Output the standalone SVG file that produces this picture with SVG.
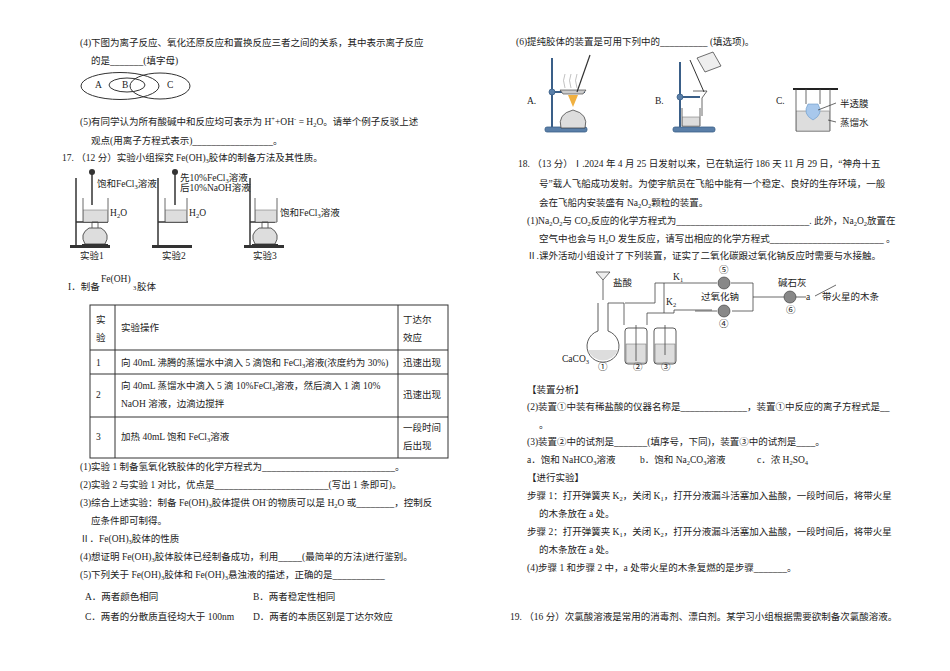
<svg xmlns="http://www.w3.org/2000/svg" width="950" height="671" viewBox="0 0 950 671">
<style>
text{font-family:"Liberation Serif","Noto Sans CJK SC",serif;font-size:9.5px;fill:#222}
.s{font-size:6.5px}
.ln{stroke:#333;stroke-width:1;fill:none}
.th{stroke:#444;stroke-width:0.8;fill:none}
.liq{fill:#ddd;stroke:#666;stroke-width:0.5}
.blue{fill:#5a7fa8;stroke:#3a5f88;stroke-width:0.8}
</style>
<rect width="950" height="671" fill="#fff"/>
<defs>
<g id="burner"><path d="M-10,0 q-6,-10 4,-16 h12 q10,6 4,16 z" fill="#ddd" stroke="#333" stroke-width="0.8"/><rect x="-13" y="0" width="26" height="3" fill="#333"/><path d="M-3,-16 v-6 h6 v6" class="th"/></g>
</defs>
<g id="left-text">
<text x="80" y="46">(4)下图为离子反应、氧化还原反应和置换反应三者之间的关系，其中表示离子反应</text>
<text x="91" y="64">的是_______(填字母)</text>
<text x="80" y="125">(5)有同学认为所有酸碱中和反应均可表示为 H<tspan class="s" dy="-4">+</tspan><tspan dy="4">+OH</tspan><tspan class="s" dy="-4">-</tspan><tspan dy="4"> = H</tspan><tspan class="s" dy="2">2</tspan><tspan dy="-2">O。请举个例子反驳上述</tspan></text>
<text x="91" y="144">观点(用离子方程式表示)_________________。</text>
<text x="62" y="161">17.  （12 分）实验小组探究 Fe(OH)<tspan class="s" dy="2">3</tspan><tspan dy="-2">胶体的制备方法及其性质。</tspan></text>
<text x="68" y="290">I．制备</text><text x="101" y="282" font-size="8">Fe(OH)</text><text x="133" y="290" class="s">3</text><text x="137" y="290">胶体</text>
</g>
<g id="venn">
<ellipse cx="120" cy="86" rx="39" ry="13.5" class="ln"/>
<ellipse cx="127" cy="85" rx="18" ry="7" class="ln"/>
<ellipse cx="160" cy="86" rx="30" ry="13" class="ln"/>
<text x="95" y="88" font-size="7">A</text><text x="122" y="88" font-size="7">B</text><text x="167" y="88" font-size="7">C</text>
</g>
<g id="exp1">
<line x1="76" y1="178" x2="76" y2="247" stroke="#333" stroke-width="1.5"/><rect x="70" y="245" width="40" height="3" fill="#333"/>
<line x1="76" y1="222" x2="108" y2="222" stroke="#333" stroke-width="1.5"/>
<path d="M83,198 v24 h25 v-24" class="th"/><rect x="83.5" y="210" width="24" height="12" class="liq"/>
<line x1="92" y1="170" x2="92" y2="205" stroke="#333" stroke-width="1.5"/><circle cx="92" cy="172" r="3" fill="#333"/>
<use href="#burner" x="95" y="244"/>
<text x="97" y="187" font-size="7.5">饱和FeCl<tspan class="s" dy="1.5">3</tspan><tspan dy="-1.5">溶液</tspan></text>
<text x="110" y="216" font-size="7.5">H<tspan class="s" dy="1.5">2</tspan><tspan dy="-1.5">O</tspan></text>
<text x="80" y="259" font-size="7.5">实验1</text>
</g>
<g id="exp2">
<line x1="158" y1="178" x2="158" y2="247" stroke="#333" stroke-width="1.5"/><rect x="152" y="245" width="40" height="3" fill="#333"/>
<line x1="158" y1="222" x2="188" y2="222" stroke="#333" stroke-width="1.5"/>
<path d="M165,198 v24 h22 v-24" class="th"/><rect x="165.5" y="210" width="21" height="12" class="liq"/>
<line x1="175" y1="170" x2="175" y2="205" stroke="#333" stroke-width="1.5"/><circle cx="175" cy="172" r="3" fill="#333"/>
<text x="180" y="181" font-size="7.5">先10%FeCl<tspan class="s" dy="1.5">3</tspan><tspan dy="-1.5">溶液</tspan></text>
<text x="180" y="191" font-size="7.5">后10%NaOH溶液</text>
<text x="189" y="216" font-size="7.5">H<tspan class="s" dy="1.5">2</tspan><tspan dy="-1.5">O</tspan></text>
<text x="162" y="259" font-size="7.5">实验2</text>
</g>
<g id="exp3">
<line x1="250" y1="178" x2="250" y2="247" stroke="#333" stroke-width="1.5"/><rect x="244" y="245" width="40" height="3" fill="#333"/>
<line x1="250" y1="222" x2="275" y2="222" stroke="#333" stroke-width="1.5"/>
<path d="M255,198 v24 h22 v-24" class="th"/><rect x="255.5" y="210" width="21" height="12" class="liq"/>
<use href="#burner" x="265" y="244"/>
<text x="280" y="216" font-size="7.5">饱和FeCl<tspan class="s" dy="1.5">3</tspan><tspan dy="-1.5">溶液</tspan></text>
<text x="253" y="259" font-size="7.5">实验3</text>
</g>
<g id="table">
<rect x="90" y="305" width="358" height="153" class="ln"/>
<line x1="115" y1="305" x2="115" y2="458" class="ln"/><line x1="398" y1="305" x2="398" y2="458" class="ln"/>
<line x1="90" y1="350" x2="448" y2="350" class="ln"/><line x1="90" y1="374" x2="448" y2="374" class="ln"/><line x1="90" y1="417" x2="448" y2="417" class="ln"/>
<text x="96" y="323">实</text><text x="96" y="341">验</text><text x="121" y="331">实验操作</text>
<text x="403" y="323">丁达尔</text><text x="403" y="341">效应</text>
<text x="96" y="366">1</text><text x="121" y="366">向 40mL 沸腾的蒸馏水中滴入 5 滴饱和 FeCl<tspan class="s" dy="2">3</tspan><tspan dy="-2">溶液(浓度约为 30%)</tspan></text><text x="403" y="366">迅速出现</text>
<text x="96" y="398">2</text><text x="121" y="389">向 40mL 蒸馏水中滴入 5 滴 10%FeCl<tspan class="s" dy="2">3</tspan><tspan dy="-2">溶液，然后滴入 1 滴 10%</tspan></text><text x="121" y="407">NaOH 溶液，边滴边搅拌</text><text x="403" y="398">迅速出现</text>
<text x="96" y="440">3</text><text x="121" y="440">加热 40mL 饱和 FeCl<tspan class="s" dy="2">3</tspan><tspan dy="-2">溶液</tspan></text><text x="403" y="431">一段时间</text><text x="403" y="449">后出现</text>
</g>
<g id="left-q">
<text x="80" y="470">(1)实验 1 制备氢氧化铁胶体的化学方程式为____________________________。</text>
<text x="80" y="488">(2)实验 2 与实验 1 对比，优点是________________________(写出 1 条即可)。</text>
<text x="80" y="506">(3)综合上述实验：制备 Fe(OH)<tspan class="s" dy="2">3</tspan><tspan dy="-2">胶体提供 OH</tspan><tspan class="s" dy="-4">-</tspan><tspan dy="4">的物质可以是 H</tspan><tspan class="s" dy="2">2</tspan><tspan dy="-2">O 或________，控制反</tspan></text>
<text x="91" y="524">应条件即可制得。</text>
<text x="80" y="542">Ⅱ．Fe(OH)<tspan class="s" dy="2">3</tspan><tspan dy="-2">胶体的性质</tspan></text>
<text x="80" y="560">(4)想证明 Fe(OH)<tspan class="s" dy="2">3</tspan><tspan dy="-2">胶体胶体已经制备成功，利用_____(最简单的方法)进行鉴别。</tspan></text>
<text x="80" y="578">(5)下列关于 Fe(OH)<tspan class="s" dy="2">3</tspan><tspan dy="-2">胶体和 Fe(OH)</tspan><tspan class="s" dy="2">3</tspan><tspan dy="-2">悬浊液的描述，正确的是___________</tspan></text>
<text x="85" y="600">A．两者颜色相同</text><text x="253" y="600">B．两者稳定性相同</text>
<text x="85" y="620">C．两者的分散质直径均大于 100nm</text><text x="253" y="620">D．两者的本质区别是丁达尔效应</text>
</g>
<g id="right-text">
<text x="516" y="45">(6)提纯胶体的装置是可用下列中的__________ (填选项)。</text>
<text x="527" y="104">A.</text><text x="655" y="104">B.</text><text x="776" y="104">C.</text>
<text x="518" y="167">18.  （13 分）Ⅰ.2024 年 4 月 25 日发射以来，已在轨运行 186 天 11 月 29 日，“神舟十五</text>
<text x="539" y="187">号”载人飞船成功发射。为使宇航员在飞船中能有一个稳定、良好的生存环境，一般</text>
<text x="539" y="206">会在飞船内安装盛有 Na<tspan class="s" dy="2">2</tspan><tspan dy="-2">O</tspan><tspan class="s" dy="2">2</tspan><tspan dy="-2">颗粒的装置。</tspan></text>
<text x="527" y="224">(1)Na<tspan class="s" dy="2">2</tspan><tspan dy="-2">O</tspan><tspan class="s" dy="2">2</tspan><tspan dy="-2">与 CO</tspan><tspan class="s" dy="2">2</tspan><tspan dy="-2">反应的化学方程式为____________________________. 此外，Na</tspan><tspan class="s" dy="2">2</tspan><tspan dy="-2">O</tspan><tspan class="s" dy="2">2</tspan><tspan dy="-2">放置在</tspan></text>
<text x="539" y="242">空气中也会与 H<tspan class="s" dy="2">2</tspan><tspan dy="-2">O 发生反应，请写出相应的化学方程式________________________ 。</tspan></text>
<text x="527" y="259">Ⅱ.课外活动小组设计了下列装置，证实了二氧化碳跟过氧化钠反应时需要与水接触。</text>
<text x="527" y="393">【装置分析】</text>
<text x="527" y="410">(2)装置①中装有稀盐酸的仪器名称是______________，装置①中反应的离子方程式是__</text>
<text x="539" y="428">。</text>
<text x="527" y="445">(3)装置②中的试剂是_______(填序号，下同)，装置③中的试剂是____。</text>
<text x="527" y="463">a．饱和 NaHCO<tspan class="s" dy="2">3</tspan><tspan dy="-2">溶液</tspan></text>
<text x="640" y="463">b．饱和 Na<tspan class="s" dy="2">2</tspan><tspan dy="-2">CO</tspan><tspan class="s" dy="2">3</tspan><tspan dy="-2">溶液</tspan></text>
<text x="757" y="463">c．浓 H<tspan class="s" dy="2">2</tspan><tspan dy="-2">SO</tspan><tspan class="s" dy="2">4</tspan></text>
<text x="527" y="481">【进行实验】</text>
<text x="527" y="499">步骤 1：打开弹簧夹 K<tspan class="s" dy="2">2</tspan><tspan dy="-2">，关闭 K</tspan><tspan class="s" dy="2">1</tspan><tspan dy="-2">，打开分液漏斗活塞加入盐酸，一段时间后，将带火星</tspan></text>
<text x="539" y="517">的木条放在 a 处。</text>
<text x="527" y="535">步骤 2：打开弹簧夹 K<tspan class="s" dy="2">1</tspan><tspan dy="-2">，关闭 K</tspan><tspan class="s" dy="2">2</tspan><tspan dy="-2">，打开分液漏斗活塞加入盐酸，一段时间后，将带火星</tspan></text>
<text x="539" y="553">的木条放在 a 处。</text>
<text x="527" y="571">(4)步骤 1 和步骤 2 中，a 处带火星的木条复燃的是步骤_______。</text>
<text x="510" y="620">19.  （16 分）次氯酸溶液是常用的消毒剂、漂白剂。某学习小组根据需要欲制备次氯酸溶液。</text>
</g>
<g id="figA">
<line x1="552" y1="58" x2="552" y2="128" stroke="#3a5f88" stroke-width="2"/>
<rect x="545" y="127" width="42" height="5" rx="2" class="blue"/>
<line x1="552" y1="92" x2="585" y2="92" stroke="#3a5f88" stroke-width="2"/><circle cx="552" cy="92" r="3" class="blue"/>
<path d="M560,90 h26 l-3,4 h-20 z" fill="#ccc" stroke="#333" stroke-width="0.6"/>
<path d="M568,95 l5,12 l5,-12" fill="#f0b040"/>
<path d="M561,128 q-4,-14 12,-18 q16,4 12,18 z" fill="#ddd" stroke="#333" stroke-width="0.7"/>
<line x1="577" y1="92" x2="590" y2="55" stroke="#333" stroke-width="1.2"/>
<path d="M565,88 q-3,-8 0,-14 M571,88 q-3,-8 0,-14 M577,88 q-3,-8 0,-14" stroke="#999" stroke-width="0.6" fill="none"/>
</g>
<g id="figB">
<line x1="680" y1="62" x2="680" y2="128" stroke="#3a5f88" stroke-width="2"/>
<rect x="673" y="127" width="42" height="5" rx="2" class="blue"/>
<line x1="680" y1="97" x2="700" y2="97" stroke="#3a5f88" stroke-width="2"/><circle cx="680" cy="97" r="3" class="blue"/>
<path d="M693,91 h14 l-5,7 v18" class="th"/>
<path d="M682,108 v18 h18 v-18" class="th"/><rect x="682.5" y="117" width="17" height="9" class="liq"/>
<line x1="690" y1="60" x2="704" y2="92" stroke="#333" stroke-width="1"/>
<path d="M697,58 l16,-6 l8,14 l-16,6 z" fill="#eee" stroke="#333" stroke-width="0.7"/>
</g>
<g id="figC">
<line x1="793" y1="89" x2="838" y2="89" stroke="#222" stroke-width="2"/>
<path d="M796,89 v42 h34 v-42" class="th"/><rect x="796.5" y="111" width="33" height="20" class="liq"/>
<line x1="806" y1="89" x2="806" y2="104" class="th"/><line x1="820" y1="89" x2="820" y2="104" class="th"/>
<path d="M808,104 q-6,10 5,16 q11,-6 5,-16 z" fill="#a8c8ec" stroke="#6a98c8" stroke-width="0.6"/>
<line x1="818" y1="110" x2="836" y2="103" class="th"/><line x1="828" y1="120" x2="836" y2="122" class="th"/>
<text x="840" y="107" font-family="Noto Sans CJK SC,sans-serif" font-size="11">半透膜</text>
<text x="840" y="126" font-family="Noto Sans CJK SC,sans-serif" font-size="11">蒸馏水</text>
</g>
<g id="co2-apparatus">
<path d="M603,280 l-7,-8 h14 z" fill="#eee" stroke="#333" stroke-width="0.7"/><line x1="603" y1="280" x2="603" y2="300" class="th"/>
<text x="613" y="286" font-size="7.5">盐酸</text>
<path d="M598,303 v28 a16,16 0 1,0 10,0 v-28" fill="#fff" stroke="#333" stroke-width="0.8"/>
<path d="M588,350 a16,16 0 0,0 30,0 z" fill="#ddd"/>
<text x="562" y="362" font-size="7">CaCO<tspan class="s" dy="1.5">3</tspan></text>
<text x="598" y="370" font-size="7.5">①</text>
<path d="M608,303 h16 v22 M625,303 h30 v-20 h40" class="th"/>
<rect x="625" y="328" width="22" height="36" rx="3" fill="#fff" stroke="#333" stroke-width="0.8"/><rect x="626" y="344" width="20" height="19" class="liq"/>
<rect x="654" y="328" width="22" height="36" rx="3" fill="#fff" stroke="#333" stroke-width="0.8"/><rect x="655" y="344" width="20" height="19" class="liq"/>
<path d="M636,325 v36 M647,325 v-12 h17 v-30 M664,313 h10 v-3 h38 M665,325 v30" class="th"/>
<text x="633" y="370" font-size="7.5">②</text><text x="661" y="370" font-size="7.5">③</text>
<text x="673" y="280" font-size="7">K<tspan class="s" dy="1.5">1</tspan></text><text x="666" y="305" font-size="7">K<tspan class="s" dy="1.5">2</tspan></text>
<path d="M695,283 h22 M731,283 h22 v28 h-21 M731,311 M753,297 h17 M695,311 h22" class="th"/>
<circle cx="724" cy="283" r="6" fill="#888" stroke="#333" stroke-width="0.6"/><circle cx="724" cy="311" r="6" fill="#888" stroke="#333" stroke-width="0.6"/>
<text x="719" y="273" font-size="7">⑤</text><text x="719" y="327" font-size="7">④</text>
<text x="701" y="300" font-size="7.5">过氧化钠</text>
<path d="M770,297 h14 M796,297 h10" class="th"/>
<circle cx="790" cy="297" r="6" fill="#888" stroke="#333" stroke-width="0.6"/>
<text x="778" y="286" font-size="7.5">碱石灰</text><text x="786" y="313" font-size="7">⑥</text>
<text x="806" y="300" font-size="6">a</text>
<line x1="815" y1="296" x2="836" y2="285" class="th"/>
<text x="822" y="300" font-size="7.5">带火星的木条</text>
</g>
</svg>
